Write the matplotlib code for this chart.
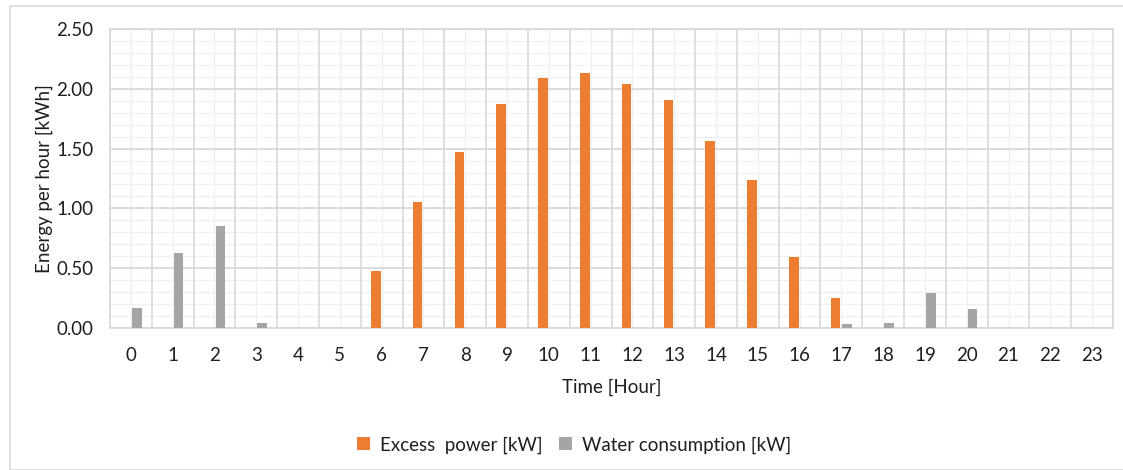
import matplotlib
matplotlib.use("Agg")
import matplotlib.pyplot as plt
import numpy as np
from matplotlib.patches import Rectangle

hours = list(range(24))
hour_labels = [str(h) for h in hours]
excess_power = [0, 0, 0, 0, 0, 0, 0.48, 1.05, 1.47, 1.87, 2.09, 2.13, 2.04, 1.91,
                1.56, 1.24, 0.59, 0.25, 0, 0, 0, 0, 0, 0]
water_consumption = [0.17, 0.63, 0.85, 0.04, 0, 0, 0, 0, 0, 0, 0, 0, 0, 0,
                     0, 0, 0, 0.03, 0.04, 0.29, 0.16, 0, 0, 0]
y_ticks = [0.0, 0.5, 1.0, 1.5, 2.0, 2.5]

plt.rcParams['font.family'] = ['Lato', 'DejaVu Sans']

W, H = 1123, 470
fig = plt.figure(figsize=(W / 100, H / 100), dpi=100)

# outer chart border
fig.patches.append(Rectangle((10 / W, 0), 1.2, (H - 6) / H, transform=fig.transFigure,
                             fill=False, edgecolor='#D9D9D9', linewidth=1.2))

left, right, top, bottom = 110, 1113, 29, 328
ax = fig.add_axes([left / W, 1 - bottom / H, (right - left) / W, (bottom - top) / H])

x = np.arange(len(hours))
bw = 0.23
off = 0.14
ax.bar(x - off, excess_power, width=bw, color='#ED7D31', label='Excess  power [kW]', zorder=3)
ax.bar(x + off, water_consumption, width=bw, color='#A5A5A5', label='Water consumption [kW]', zorder=3)

ax.set_xlim(-0.5, len(hours) - 0.5)
ax.set_ylim(0, 2.5)
ax.set_yticks(y_ticks)
ax.set_yticklabels([f"{v:.2f}" for v in y_ticks])
ax.set_xticks(x)
ax.set_xticklabels(hour_labels)

# grid: major horizontal + category boundary vertical lines (darker), minor lighter
ax.grid(False)
for v in np.arange(0, 2.5001, 0.1):
    ax.axhline(v, color='#F0F0F0', linewidth=1.0, zorder=0)
for v in y_ticks:
    ax.axhline(v, color='#D9D9D9', linewidth=1.2, zorder=1)
for v in x:
    ax.axvline(v, color='#F0F0F0', linewidth=1.0, zorder=0)
for v in np.arange(-0.5, len(hours), 1.0):
    ax.axvline(v, color='#D9D9D9', linewidth=1.2, zorder=1)

for s in ax.spines.values():
    s.set_color('#D9D9D9')
    s.set_linewidth(1.2)

ax.tick_params(axis='both', which='both', length=0, labelsize=13.5, colors='#1F1F1F')
ax.tick_params(axis='x', pad=14)
ax.tick_params(axis='y', pad=12)

ax.set_xlabel('Time [Hour]', fontsize=13.5, color='#1F1F1F', labelpad=10)
ax.set_ylabel('Energy per hour [kWh]', fontsize=13.5, color='#1F1F1F', labelpad=2)

fig.legend(loc='center', bbox_to_anchor=(574 / W, 1 - 445 / H), ncol=2, frameon=False,
           fontsize=13.5, handlelength=0.7, handleheight=0.7, columnspacing=0.9,
           handletextpad=0.5, labelcolor='#1F1F1F')

fig.savefig('out.png', dpi=100, facecolor='white')
